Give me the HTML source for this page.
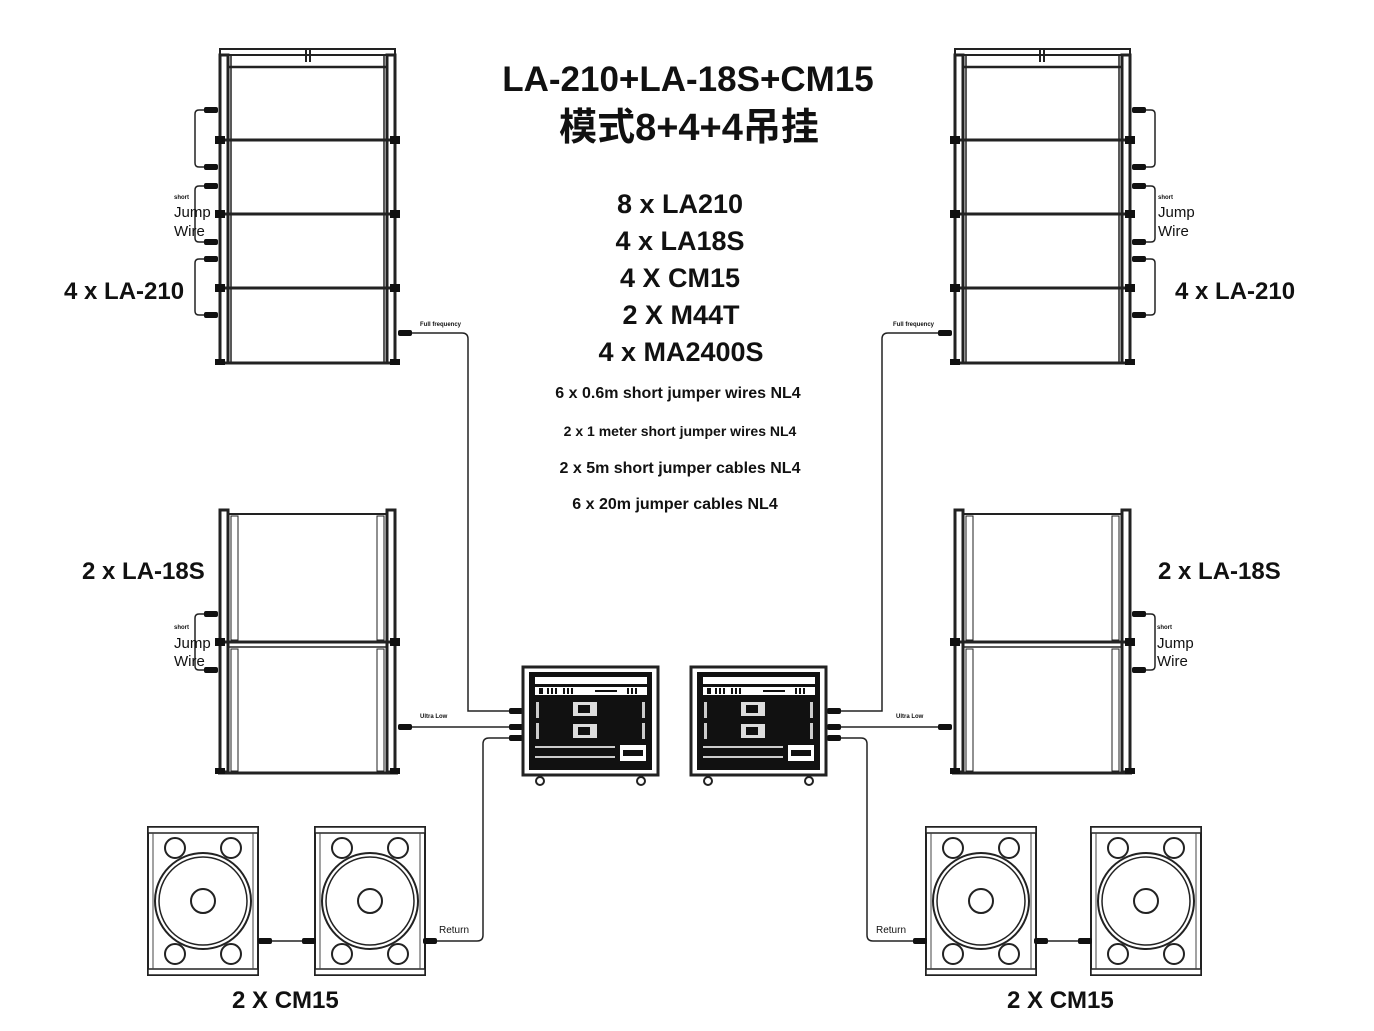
<!DOCTYPE html>
<html><head><meta charset="utf-8"><style>
html,body{margin:0;padding:0;background:#fff;}
svg{display:block;}
text{font-family:"Liberation Sans","Noto Sans CJK SC",sans-serif;fill:#111;}
</style></head><body>
<svg width="1374" height="1031" viewBox="0 0 1374 1031" xmlns="http://www.w3.org/2000/svg">
<defs>
 <g id="spk">
  <rect x="0" y="0" width="110" height="148" fill="#fff" stroke="#222" stroke-width="2"/>
  <rect x="0" y="0" width="110" height="6" fill="#fff" stroke="#222" stroke-width="1.5"/>
  <rect x="0" y="142" width="110" height="6" fill="#fff" stroke="#222" stroke-width="1.5"/>
  <line x1="5" y1="6" x2="5" y2="142" stroke="#444" stroke-width="1"/>
  <line x1="105" y1="6" x2="105" y2="142" stroke="#444" stroke-width="1"/>
  <circle cx="55" cy="74" r="48" fill="none" stroke="#222" stroke-width="2"/>
  <circle cx="55" cy="74" r="44" fill="none" stroke="#222" stroke-width="1.5"/>
  <circle cx="55" cy="74" r="12" fill="none" stroke="#222" stroke-width="2"/>
  <circle cx="27" cy="21" r="10" fill="#fff" stroke="#222" stroke-width="2"/>
  <circle cx="83" cy="21" r="10" fill="#fff" stroke="#222" stroke-width="2"/>
  <circle cx="27" cy="127" r="10" fill="#fff" stroke="#222" stroke-width="2"/>
  <circle cx="83" cy="127" r="10" fill="#fff" stroke="#222" stroke-width="2"/>
 </g>
 <g id="amp">
  <rect x="0" y="0" width="135" height="108" fill="#fff" stroke="#222" stroke-width="3"/>
  <rect x="6" y="5" width="123" height="98" fill="#111"/>
  <rect x="12" y="10" width="112" height="7" fill="#fff"/>
  <rect x="12" y="20" width="112" height="8" fill="#fff"/>
  <rect x="16" y="21" width="4" height="6" fill="#111"/>
  <rect x="24" y="21" width="2" height="6" fill="#111"/><rect x="28" y="21" width="2" height="6" fill="#111"/><rect x="32" y="21" width="2" height="6" fill="#111"/>
  <rect x="40" y="21" width="2" height="6" fill="#111"/><rect x="44" y="21" width="2" height="6" fill="#111"/><rect x="48" y="21" width="2" height="6" fill="#111"/>
  <rect x="72" y="23" width="22" height="2" fill="#111"/>
  <rect x="104" y="21" width="2" height="6" fill="#111"/><rect x="108" y="21" width="2" height="6" fill="#111"/><rect x="112" y="21" width="2" height="6" fill="#111"/>
  <rect x="50" y="35" width="24" height="14" fill="#ddd"/><rect x="55" y="38" width="12" height="8" fill="#111"/>
  <rect x="50" y="57" width="24" height="14" fill="#ddd"/><rect x="55" y="60" width="12" height="8" fill="#111"/>
  <rect x="13" y="35" width="3" height="16" fill="#ccc"/><rect x="13" y="56" width="3" height="16" fill="#ccc"/>
  <rect x="119" y="35" width="3" height="16" fill="#ccc"/><rect x="119" y="56" width="3" height="16" fill="#ccc"/>
  <rect x="12" y="79" width="80" height="2" fill="#ccc"/>
  <rect x="12" y="89" width="80" height="2" fill="#ccc"/>
  <rect x="97" y="78" width="26" height="16" fill="#fff"/><rect x="100" y="83" width="20" height="6" fill="#111"/>
  <circle cx="17" cy="114" r="4" fill="#fff" stroke="#222" stroke-width="2"/>
  <circle cx="118" cy="114" r="4" fill="#fff" stroke="#222" stroke-width="2"/>
 </g>
 <g id="conn"><rect x="0" y="-3" width="14" height="6" rx="2" fill="#111"/></g>
 <g id="half" fill="none" stroke="#222">
  <rect x="220" y="49" width="175" height="6" stroke-width="2"/>
  <line x1="306" y1="49" x2="306" y2="62" stroke-width="2"/><line x1="310" y1="49" x2="310" y2="62" stroke-width="2"/>
  <rect x="220" y="55" width="8" height="308" stroke-width="3"/>
  <rect x="387" y="55" width="8" height="308" stroke-width="3"/>
  <line x1="231" y1="55" x2="231" y2="363" stroke-width="1.5"/>
  <line x1="384" y1="55" x2="384" y2="363" stroke-width="1.5"/>
  <line x1="228" y1="67" x2="387" y2="67" stroke-width="2.5"/>
  <line x1="218" y1="140" x2="398" y2="140" stroke-width="3"/>
  <line x1="218" y1="214" x2="398" y2="214" stroke-width="3"/>
  <line x1="218" y1="288" x2="398" y2="288" stroke-width="3"/>
  <line x1="218" y1="363" x2="398" y2="363" stroke-width="3"/>
  <path d="M205 110 H199 Q195 110 195 114 V163 Q195 167 199 167 H205" stroke-width="1.5"/>
  <path d="M205 186 H199 Q195 186 195 190 V238 Q195 242 199 242 H205" stroke-width="1.5"/>
  <path d="M205 259 H199 Q195 259 195 263 V311 Q195 315 199 315 H205" stroke-width="1.5"/>
  <path d="M412 333 H462 Q468 333 468 339 V711 H512" stroke-width="1.5"/>
  <rect x="220" y="510" width="8" height="262" stroke-width="3"/>
  <rect x="387" y="510" width="8" height="262" stroke-width="3"/>
  <line x1="228" y1="514" x2="387" y2="514" stroke-width="2"/>
  <line x1="218" y1="642" x2="398" y2="642" stroke-width="3"/>
  <line x1="228" y1="647" x2="387" y2="647" stroke-width="1.5"/>
  <line x1="218" y1="773" x2="398" y2="773" stroke-width="3"/>
  <rect x="231" y="516" width="7" height="124" stroke-width="1"/>
  <rect x="377" y="516" width="7" height="124" stroke-width="1"/>
  <rect x="231" y="649" width="7" height="122" stroke-width="1"/>
  <rect x="377" y="649" width="7" height="122" stroke-width="1"/>
  <path d="M205 614 H199 Q195 614 195 618 V666 Q195 670 199 670 H205" stroke-width="1.5"/>
  <line x1="412" y1="727" x2="512" y2="727" stroke-width="1.5"/>
  <path d="M512 738 H489 Q483 738 483 744 V935 Q483 941 477 941 H433" stroke-width="1.5"/>
  <line x1="270" y1="941" x2="305" y2="941" stroke-width="1.5"/>
 </g>
 <g id="halfconn">
  <use href="#conn" x="204" y="110"/><use href="#conn" x="204" y="167"/>
  <use href="#conn" x="204" y="186"/><use href="#conn" x="204" y="242"/>
  <use href="#conn" x="204" y="259"/><use href="#conn" x="204" y="315"/>
  <use href="#conn" x="204" y="614"/><use href="#conn" x="204" y="670"/>
  <use href="#conn" x="398" y="333"/><use href="#conn" x="398" y="727"/>
  <use href="#conn" x="509" y="711"/><use href="#conn" x="509" y="727"/><use href="#conn" x="509" y="738"/>
  <rect x="215" y="136" width="10" height="8" fill="#111"/><rect x="390" y="136" width="10" height="8" fill="#111"/>
  <rect x="215" y="210" width="10" height="8" fill="#111"/><rect x="390" y="210" width="10" height="8" fill="#111"/>
  <rect x="215" y="284" width="10" height="8" fill="#111"/><rect x="390" y="284" width="10" height="8" fill="#111"/>
  <rect x="215" y="638" width="10" height="8" fill="#111"/><rect x="390" y="638" width="10" height="8" fill="#111"/>
  <rect x="215" y="359" width="10" height="6" fill="#111"/><rect x="390" y="359" width="10" height="6" fill="#111"/>
  <rect x="215" y="768" width="10" height="6" fill="#111"/><rect x="390" y="768" width="10" height="6" fill="#111"/>
 </g>
</defs>

<use href="#half"/><use href="#halfconn"/>
<g transform="translate(1350,0) scale(-1,1)"><use href="#half"/><use href="#halfconn"/></g>
<use href="#amp" x="523" y="667"/><use href="#amp" x="691" y="667"/>

<use href="#spk" x="148" y="827"/><use href="#spk" x="315" y="827"/>
<use href="#spk" x="926" y="827"/><use href="#spk" x="1091" y="827"/>
<use href="#conn" x="258" y="941"/><use href="#conn" x="302" y="941"/><use href="#conn" x="423" y="941"/>
<use href="#conn" x="913" y="941"/><use href="#conn" x="1034" y="941"/><use href="#conn" x="1078" y="941"/>

<text x="688" y="91" font-size="35" font-weight="bold" text-anchor="middle" font-family="'Liberation Sans',sans-serif">LA-210+LA-18S+CM15</text>
<text x="689" y="140" font-size="38" font-weight="bold" text-anchor="middle" font-family="'Noto Sans CJK SC',sans-serif">模式8+4+4吊挂</text>

<g font-weight="bold" text-anchor="middle">
<text x="680" y="213" font-size="27">8 x LA210</text>
<text x="680" y="250" font-size="27">4 x LA18S</text>
<text x="680" y="287" font-size="27">4 X CM15</text>
<text x="681" y="324" font-size="27">2 X M44T</text>
<text x="681" y="361" font-size="27">4 x MA2400S</text>
<text x="678" y="398" font-size="16">6 x 0.6m short jumper wires NL4</text>
<text x="680" y="436" font-size="14">2 x 1 meter short jumper wires NL4</text>
<text x="680" y="473" font-size="16">2 x 5m short jumper cables NL4</text>
<text x="675" y="509" font-size="16">6 x 20m jumper cables NL4</text>
</g>

<g font-weight="bold" font-size="24">
<text x="64" y="299">4 x LA-210</text>
<text x="1175" y="299">4 x LA-210</text>
<text x="82" y="579">2 x LA-18S</text>
<text x="1158" y="579">2 x LA-18S</text>
<text x="232" y="1008">2 X CM15</text>
<text x="1007" y="1008">2 X CM15</text>
</g>

<g font-size="15" fill="#112">
<text x="174" y="217">Jump</text><text x="174" y="236">Wire</text>
<text x="1158" y="217">Jump</text><text x="1158" y="236">Wire</text>
<text x="174" y="648">Jump</text><text x="174" y="666">Wire</text>
<text x="1157" y="648">Jump</text><text x="1157" y="666">Wire</text>
</g>
<g font-size="6" font-weight="bold">
<text x="174" y="199">short</text><text x="1158" y="199">short</text>
<text x="174" y="629">short</text><text x="1157" y="629">short</text>
<text x="420" y="326">Full frequency</text><text x="893" y="326">Full frequency</text>
<text x="420" y="718">Ultra Low</text><text x="896" y="718">Ultra Low</text>
</g>
<g font-size="10">
<text x="439" y="933">Return</text><text x="876" y="933">Return</text>
</g>
</svg>
</body></html>
